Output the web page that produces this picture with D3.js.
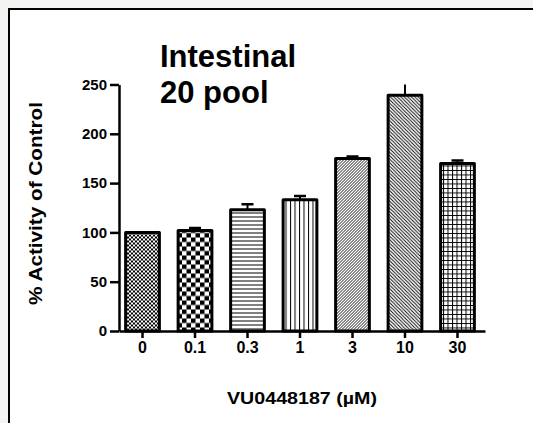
<!DOCTYPE html>
<html>
<head>
<meta charset="utf-8">
<script src="https://cdn.jsdelivr.net/npm/d3@7"></script>
<style>
  body { margin: 0; background: #f4f4f2; }
  svg { display: block; font-family: Arial, "Liberation Sans", sans-serif; }
</style>
</head>
<body>
<script>
// Data
var doses = ["0", "0.1", "0.3", "1", "3", "10", "30"];
var activity = [100, 102, 123, 133, 175, 239, 170];
var sem = [0, 2.5, 5.5, 4, 2, 13, 3];
var yTicks = [0, 50, 100, 150, 200, 250];
var fills = ["checkFine", "checkCoarse", "horiz", "vert", "diagUp", "diagDown", "grid"];

var data = doses.map(function(d, i) {
  return {dose: d, value: activity[i], err: sem[i], fill: fills[i]};
});

var margin = {top: 84.5, right: 48, bottom: 92, left: 119},
    width = 533 - margin.left - margin.right,
    height = 423 - margin.top - margin.bottom;

var root = d3.select("body")
  .append("svg")
    .attr("width", 533)
    .attr("height", 423);

// Frame of the figure panel
root.append("rect")
  .attr("x", 9).attr("y", 9)
  .attr("width", 560).attr("height", 440)
  .attr("fill", "white")
  .attr("stroke", "black")
  .attr("stroke-width", 2);

// Hatch patterns
var defs = root.append("defs");

function pattern(id, w, h) {
  var p = defs.append("pattern")
    .attr("id", id)
    .attr("patternUnits", "userSpaceOnUse")
    .attr("width", w).attr("height", h);
  p.append("rect").attr("width", w).attr("height", h).attr("fill", "white");
  return p;
}

var p0 = pattern("checkFine", 4, 4);
p0.append("rect").attr("width", 2).attr("height", 2).attr("fill", "black");
p0.append("rect").attr("x", 2).attr("y", 2).attr("width", 2).attr("height", 2).attr("fill", "black");

var p1 = pattern("checkCoarse", 9, 9);
p1.append("rect").attr("width", 4.5).attr("height", 4.5).attr("fill", "black");
p1.append("rect").attr("x", 4.5).attr("y", 4.5).attr("width", 4.5).attr("height", 4.5).attr("fill", "black");

var p2 = pattern("horiz", 4, 4);
p2.append("line").attr("x1", 0).attr("x2", 4).attr("y1", 0.5).attr("y2", 0.5)
  .attr("stroke", "black").attr("stroke-width", 1);

var p3 = pattern("vert", 4.5, 4.5);
p3.append("line").attr("y1", 0).attr("y2", 4.5).attr("x1", 0.5).attr("x2", 0.5)
  .attr("stroke", "black").attr("stroke-width", 1);

var p4 = pattern("diagUp", 3, 3);
p4.append("path").attr("d", "M-1,1 L1,-1 M0,3 L3,0 M2,4 L4,2")
  .attr("stroke", "black").attr("stroke-width", 0.9);

var p5 = pattern("diagDown", 3.5, 3.5);
p5.append("path").attr("d", "M-1,2.5 L1,4.5 M0,0 L3.5,3.5 M2.5,-1 L4.5,1")
  .attr("stroke", "black").attr("stroke-width", 0.9);

var p6 = pattern("grid", 4.5, 4.5);
p6.append("path").attr("d", "M0,0.5 H4.5 M0.5,0 V4.5")
  .attr("stroke", "black").attr("stroke-width", 1);

var svg = root.append("g")
  .attr("transform", "translate(" + margin.left + "," + margin.top + ")");

// Scales
var x = d3.scaleBand()
  .domain(doses)
  .range([0, width])
  .paddingInner(0.3)
  .paddingOuter(0.136)
  .align(0.36);

var y = d3.scaleLinear()
  .domain([0, 250])
  .range([height, 0]);

defs.append("clipPath").attr("id", "plotClip")
  .append("rect")
    .attr("x", -10).attr("y", 0)
    .attr("width", width + 20).attr("height", height);

// Bars
svg.append("g")
  .selectAll("rect")
  .data(data)
  .enter()
  .append("rect")
    .attr("x", function(d) { return x(d.dose) + 1.5; })
    .attr("y", function(d) { return y(d.value); })
    .attr("width", x.bandwidth() - 3)
    .attr("height", function(d) { return y(0) - y(d.value); })
    .attr("fill", function(d) { return "url(#" + d.fill + ")"; })
    .attr("stroke", "black")
    .attr("stroke-width", 3)
    .attr("stroke-linejoin", "round");

// Error bars (upper only)
var eb = svg.append("g")
  .attr("clip-path", "url(#plotClip)")
  .selectAll("g")
  .data(data.filter(function(d) { return d.err > 0; }))
  .enter()
  .append("g")
    .attr("stroke", "black");

eb.append("line")
  .attr("x1", function(d) { return x(d.dose) + x.bandwidth() / 2; })
  .attr("x2", function(d) { return x(d.dose) + x.bandwidth() / 2; })
  .attr("y1", function(d) { return y(d.value); })
  .attr("y2", function(d) { return y(d.value + d.err); })
  .attr("stroke-width", 2);

eb.append("line")
  .attr("x1", function(d) { return x(d.dose) + x.bandwidth() / 2 - 6; })
  .attr("x2", function(d) { return x(d.dose) + x.bandwidth() / 2 + 6; })
  .attr("y1", function(d) { return y(d.value + d.err); })
  .attr("y2", function(d) { return y(d.value + d.err); })
  .attr("stroke-width", 2.5);

// Axes
var yAxis = svg.append("g")
  .call(d3.axisLeft(y).tickValues(yTicks).tickSize(9).tickSizeOuter(0).tickPadding(3));

var xAxis = svg.append("g")
  .attr("transform", "translate(0," + height + ")")
  .call(d3.axisBottom(x).tickSize(7).tickSizeOuter(0).tickPadding(4));

[yAxis, xAxis].forEach(function(a) {
  a.select(".domain").attr("stroke-width", 2.5).attr("stroke", "black");
  a.selectAll(".tick line").attr("stroke-width", 2.5).attr("stroke", "black");
  a.selectAll(".tick text")
    .attr("fill", "black")
    .style("font-family", "Arial, 'Liberation Sans', sans-serif")
    .style("font-weight", "bold");
});
yAxis.selectAll(".tick text").style("font-size", "15px");
xAxis.selectAll(".tick text").style("font-size", "16px");

// Axis titles
svg.append("text")
  .attr("transform", "rotate(-90)")
  .attr("x", -(203.5 - margin.top))
  .attr("y", 42 - margin.left)
  .attr("text-anchor", "middle")
  .attr("textLength", 203)
  .attr("lengthAdjust", "spacingAndGlyphs")
  .style("font-size", "18px")
  .style("font-weight", "bold")
  .text("% Activity of Control");

svg.append("text")
  .attr("x", width / 2)
  .attr("y", 403.5 - margin.top)
  .attr("text-anchor", "middle")
  .attr("textLength", 150)
  .attr("lengthAdjust", "spacingAndGlyphs")
  .style("font-size", "17px")
  .style("font-weight", "bold")
  .text("VU0448187 (\u00b5M)");

// Panel title
var title = root.append("text")
  .attr("x", 160)
  .style("font-size", "31px")
  .style("font-weight", "bold");
title.append("tspan").attr("x", 160).attr("y", 67).text("Intestinal");
title.append("tspan").attr("x", 160).attr("y", 103).text("20 pool");
</script>
</body>
</html>
